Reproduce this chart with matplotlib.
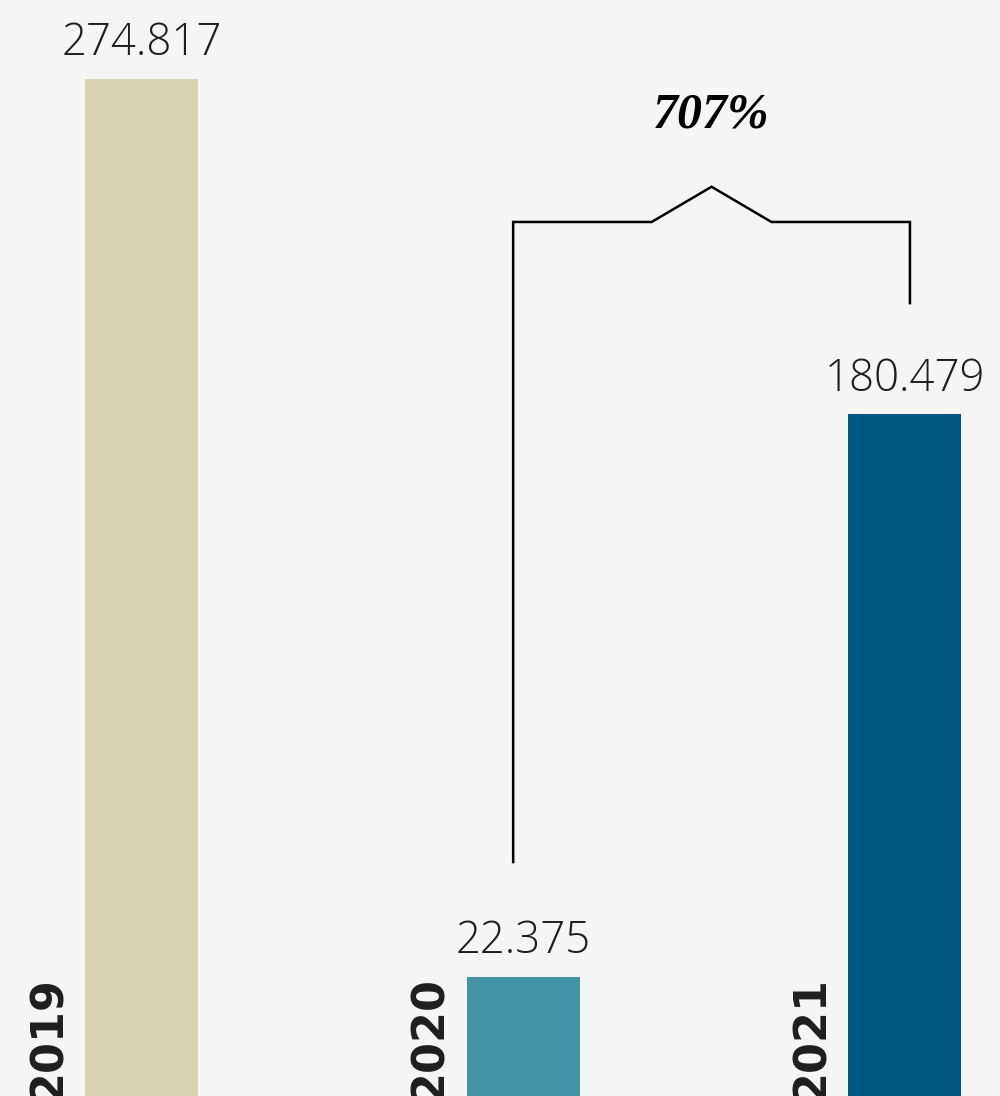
import numpy as np
import matplotlib.pyplot as plt

years = ["2019", "2020", "2021"]
values = [274.817, 22.375, 180.479]
value_labels = ["274.817", "22.375", "180.479"]
colors = ["#d7d3b1", "#4393a6", "#005882"]
change_label = "707%"

bg = "#f5f5f5"
ymin, ymax = -11.1, 297.0

fig = plt.figure(figsize=(10, 10.96), dpi=100, facecolor=bg)
ax = fig.add_axes([0, 0, 1, 1])
ax.set_facecolor(bg)

x = np.arange(len(years))
width = 0.296
ax.bar(x, np.array(values) - ymin, bottom=ymin, width=width, color=colors)

# value labels above bars
for xi, v, lab in zip(x, values, value_labels):
    ax.annotate(lab, (xi, v), xytext=(0, 9), textcoords="offset points",
                ha="center", va="bottom", fontsize=31.5, family="Open Sans",
                fontweight="light", color="#1e1e1e")

# rotated year labels at the left of each bar
for xi, yr in zip(x, years):
    ax.text(xi - 0.245, 22.6, yr, rotation=90, ha="center", va="top",
            fontsize=32, fontweight="bold", family="DejaVu Sans",
            color="#1e1e1e")

# bracket from 2020 to 2021
x0 = x[1] + 0.974 - 1
x1 = x[2] + 0.014
ytop = 234.6
peak_x = (x0 + x1) / 2
bx = [x0, x0, peak_x - 0.157, peak_x, peak_x + 0.157, x1, x1]
by = [values[1] + 32.3, ytop, ytop, ytop + 9.9, ytop, ytop, values[2] + 31.3]
ax.plot(bx, by, color="black", lw=1.8, solid_joinstyle="miter")
ax.text(peak_x, ytop + 26.5, change_label, ha="center", va="baseline",
        fontsize=36, fontweight="bold", fontstyle="italic",
        family="Liberation Serif", color="black")

ax.set_xlim(-0.371, 2.250)
ax.set_ylim(ymin, ymax)
ax.axis("off")

fig.savefig("out.png", dpi=100, facecolor=bg)
